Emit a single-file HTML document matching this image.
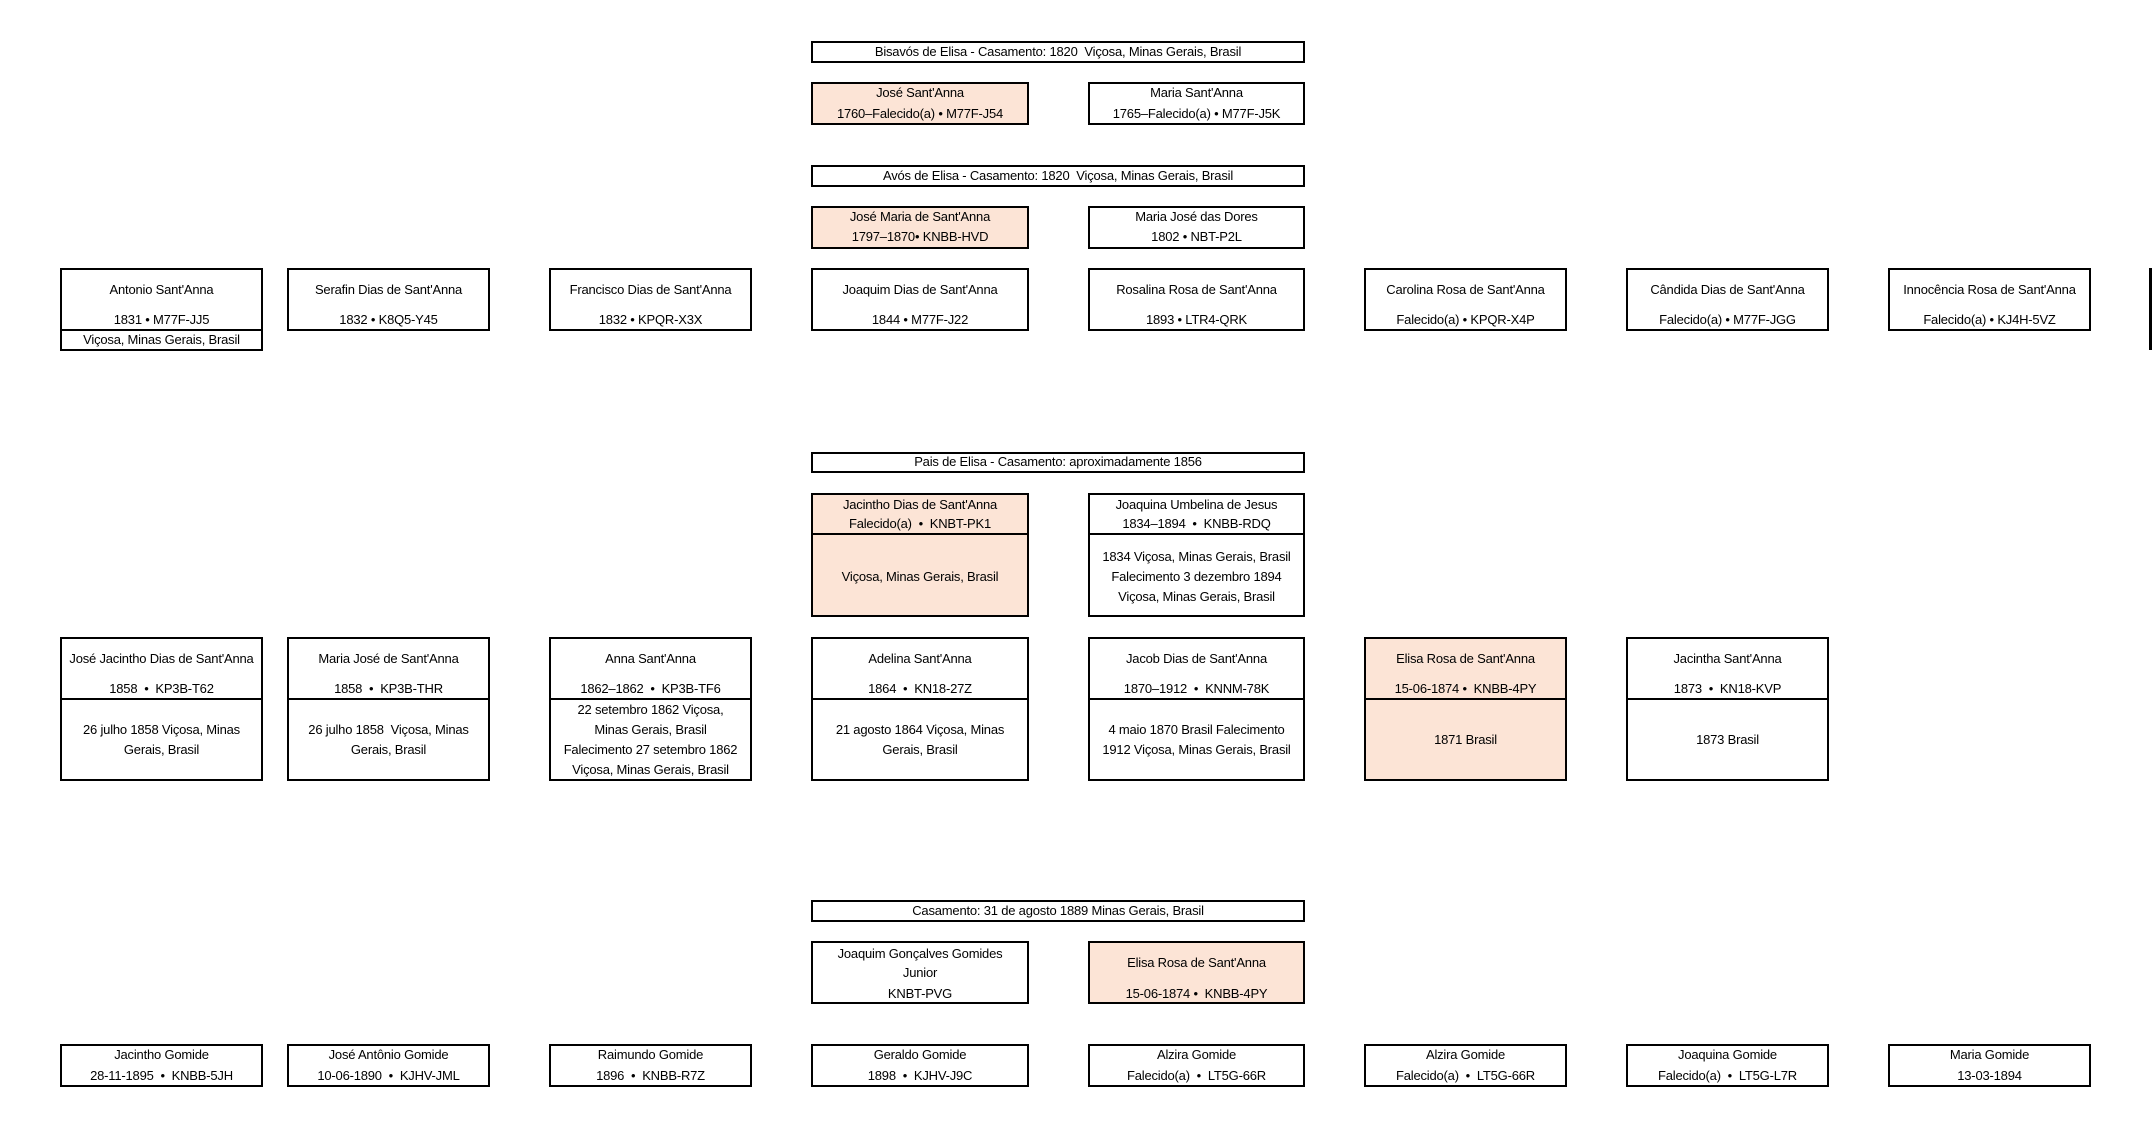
<!DOCTYPE html>
<html><head><meta charset="utf-8"><style>
body{margin:0;width:2152px;height:1127px;background:#fff;position:relative;overflow:hidden;font-family:"Liberation Sans",sans-serif;color:#000}
.b{position:absolute;border:2px solid #000;box-sizing:border-box;background:#fff}
.p{background:#fce4d6}
.l{position:absolute;height:0;border-top:2px solid #000}
.t{position:absolute;text-align:center;line-height:20px;height:20px;font-size:13px;white-space:nowrap;letter-spacing:-0.2px}
</style></head><body>

<!-- Bisavós -->
<div class="b" style="left:811px;top:41px;width:494px;height:22px"></div>
<div class="t" style="left:811px;width:494px;top:42px">Bisavós de Elisa - Casamento: 1820&nbsp; Viçosa, Minas Gerais, Brasil</div>
<div class="b p" style="left:811px;top:82px;width:218px;height:43px"></div>
<div class="t" style="left:811px;width:218px;top:83px">José Sant'Anna</div>
<div class="t" style="left:811px;width:218px;top:104px">1760–Falecido(a) • M77F-J54</div>
<div class="b" style="left:1088px;top:82px;width:217px;height:43px"></div>
<div class="t" style="left:1088px;width:217px;top:83px">Maria Sant'Anna</div>
<div class="t" style="left:1088px;width:217px;top:104px">1765–Falecido(a) • M77F-J5K</div>

<!-- Avós -->
<div class="b" style="left:811px;top:165px;width:494px;height:22px"></div>
<div class="t" style="left:811px;width:494px;top:166px">Avós de Elisa - Casamento: 1820&nbsp; Viçosa, Minas Gerais, Brasil</div>
<div class="b p" style="left:811px;top:206px;width:218px;height:43px"></div>
<div class="t" style="left:811px;width:218px;top:207px">José Maria de Sant'Anna</div>
<div class="t" style="left:811px;width:218px;top:227px">1797–1870• KNBB-HVD</div>
<div class="b" style="left:1088px;top:206px;width:217px;height:43px"></div>
<div class="t" style="left:1088px;width:217px;top:207px">Maria José das Dores</div>
<div class="t" style="left:1088px;width:217px;top:227px">1802 • NBT-P2L</div>

<!-- Row 1 -->
<div class="b" style="left:60px;top:268px;width:203px;height:83px"></div>
<div class="l" style="left:60px;top:329px;width:203px"></div>
<div class="t" style="left:60px;width:203px;top:280px">Antonio Sant'Anna</div>
<div class="t" style="left:60px;width:203px;top:310px">1831 • M77F-JJ5</div>
<div class="t" style="left:60px;width:203px;top:330px">Viçosa, Minas Gerais, Brasil</div>

<div class="b" style="left:287px;top:268px;width:203px;height:63px"></div>
<div class="t" style="left:287px;width:203px;top:280px">Serafin Dias de Sant'Anna</div>
<div class="t" style="left:287px;width:203px;top:310px">1832 • K8Q5-Y45</div>

<div class="b" style="left:549px;top:268px;width:203px;height:63px"></div>
<div class="t" style="left:549px;width:203px;top:280px">Francisco Dias de Sant'Anna</div>
<div class="t" style="left:549px;width:203px;top:310px">1832 • KPQR-X3X</div>

<div class="b" style="left:811px;top:268px;width:218px;height:63px"></div>
<div class="t" style="left:811px;width:218px;top:280px">Joaquim Dias de Sant'Anna</div>
<div class="t" style="left:811px;width:218px;top:310px">1844 • M77F-J22</div>

<div class="b" style="left:1088px;top:268px;width:217px;height:63px"></div>
<div class="t" style="left:1088px;width:217px;top:280px">Rosalina Rosa de Sant'Anna</div>
<div class="t" style="left:1088px;width:217px;top:310px">1893 • LTR4-QRK</div>

<div class="b" style="left:1364px;top:268px;width:203px;height:63px"></div>
<div class="t" style="left:1364px;width:203px;top:280px">Carolina Rosa de Sant'Anna</div>
<div class="t" style="left:1364px;width:203px;top:310px">Falecido(a) • KPQR-X4P</div>

<div class="b" style="left:1626px;top:268px;width:203px;height:63px"></div>
<div class="t" style="left:1626px;width:203px;top:280px">Cândida Dias de Sant'Anna</div>
<div class="t" style="left:1626px;width:203px;top:310px">Falecido(a) • M77F-JGG</div>

<div class="b" style="left:1888px;top:268px;width:203px;height:63px"></div>
<div class="t" style="left:1888px;width:203px;top:280px">Innocência Rosa de Sant'Anna</div>
<div class="t" style="left:1888px;width:203px;top:310px">Falecido(a) • KJ4H-5VZ</div>

<div style="position:absolute;left:2149px;top:268px;width:3px;height:82px;background:#000"></div>

<!-- Pais -->
<div class="b" style="left:811px;top:452px;width:494px;height:21px"></div>
<div class="t" style="left:811px;width:494px;top:452px">Pais de Elisa - Casamento: aproximadamente 1856</div>
<div class="b p" style="left:811px;top:493px;width:218px;height:124px"></div>
<div class="l" style="left:811px;top:533px;width:218px"></div>
<div class="t" style="left:811px;width:218px;top:495px">Jacintho Dias de Sant'Anna</div>
<div class="t" style="left:811px;width:218px;top:514px">Falecido(a)&nbsp; •&nbsp; KNBT-PK1</div>
<div class="t" style="left:811px;width:218px;top:567px">Viçosa, Minas Gerais, Brasil</div>

<div class="b" style="left:1088px;top:493px;width:217px;height:124px"></div>
<div class="l" style="left:1088px;top:533px;width:217px"></div>
<div class="t" style="left:1088px;width:217px;top:495px">Joaquina Umbelina de Jesus</div>
<div class="t" style="left:1088px;width:217px;top:514px">1834–1894&nbsp; •&nbsp; KNBB-RDQ</div>
<div class="t" style="left:1088px;width:217px;top:547px">1834 Viçosa, Minas Gerais, Brasil</div>
<div class="t" style="left:1088px;width:217px;top:567px">Falecimento 3 dezembro 1894</div>
<div class="t" style="left:1088px;width:217px;top:587px">Viçosa, Minas Gerais, Brasil</div>

<!-- Row 2 -->
<div class="b" style="left:60px;top:637px;width:203px;height:144px"></div>
<div class="l" style="left:60px;top:698px;width:203px"></div>
<div class="t" style="left:60px;width:203px;top:649px">José Jacintho Dias de Sant'Anna</div>
<div class="t" style="left:60px;width:203px;top:679px">1858&nbsp; •&nbsp; KP3B-T62</div>
<div class="t" style="left:60px;width:203px;top:720px">26 julho 1858 Viçosa, Minas</div>
<div class="t" style="left:60px;width:203px;top:740px">Gerais, Brasil</div>

<div class="b" style="left:287px;top:637px;width:203px;height:144px"></div>
<div class="l" style="left:287px;top:698px;width:203px"></div>
<div class="t" style="left:287px;width:203px;top:649px">Maria José de Sant'Anna</div>
<div class="t" style="left:287px;width:203px;top:679px">1858&nbsp; •&nbsp; KP3B-THR</div>
<div class="t" style="left:287px;width:203px;top:720px">26 julho 1858&nbsp; Viçosa, Minas</div>
<div class="t" style="left:287px;width:203px;top:740px">Gerais, Brasil</div>

<div class="b" style="left:549px;top:637px;width:203px;height:144px"></div>
<div class="l" style="left:549px;top:698px;width:203px"></div>
<div class="t" style="left:549px;width:203px;top:649px">Anna Sant'Anna</div>
<div class="t" style="left:549px;width:203px;top:679px">1862–1862&nbsp; •&nbsp; KP3B-TF6</div>
<div class="t" style="left:549px;width:203px;top:700px">22 setembro 1862 Viçosa,</div>
<div class="t" style="left:549px;width:203px;top:720px">Minas Gerais, Brasil</div>
<div class="t" style="left:549px;width:203px;top:740px">Falecimento 27 setembro 1862</div>
<div class="t" style="left:549px;width:203px;top:760px">Viçosa, Minas Gerais, Brasil</div>

<div class="b" style="left:811px;top:637px;width:218px;height:144px"></div>
<div class="l" style="left:811px;top:698px;width:218px"></div>
<div class="t" style="left:811px;width:218px;top:649px">Adelina Sant'Anna</div>
<div class="t" style="left:811px;width:218px;top:679px">1864&nbsp; •&nbsp; KN18-27Z</div>
<div class="t" style="left:811px;width:218px;top:720px">21 agosto 1864 Viçosa, Minas</div>
<div class="t" style="left:811px;width:218px;top:740px">Gerais, Brasil</div>

<div class="b" style="left:1088px;top:637px;width:217px;height:144px"></div>
<div class="l" style="left:1088px;top:698px;width:217px"></div>
<div class="t" style="left:1088px;width:217px;top:649px">Jacob Dias de Sant'Anna</div>
<div class="t" style="left:1088px;width:217px;top:679px">1870–1912&nbsp; •&nbsp; KNNM-78K</div>
<div class="t" style="left:1088px;width:217px;top:720px">4 maio 1870 Brasil Falecimento</div>
<div class="t" style="left:1088px;width:217px;top:740px">1912 Viçosa, Minas Gerais, Brasil</div>

<div class="b p" style="left:1364px;top:637px;width:203px;height:144px"></div>
<div class="l" style="left:1364px;top:698px;width:203px"></div>
<div class="t" style="left:1364px;width:203px;top:649px">Elisa Rosa de Sant'Anna</div>
<div class="t" style="left:1364px;width:203px;top:679px">15-06-1874 •&nbsp; KNBB-4PY</div>
<div class="t" style="left:1364px;width:203px;top:730px">1871 Brasil</div>

<div class="b" style="left:1626px;top:637px;width:203px;height:144px"></div>
<div class="l" style="left:1626px;top:698px;width:203px"></div>
<div class="t" style="left:1626px;width:203px;top:649px">Jacintha Sant'Anna</div>
<div class="t" style="left:1626px;width:203px;top:679px">1873&nbsp; •&nbsp; KN18-KVP</div>
<div class="t" style="left:1626px;width:203px;top:730px">1873 Brasil</div>

<!-- Casamento -->
<div class="b" style="left:811px;top:900px;width:494px;height:22px"></div>
<div class="t" style="left:811px;width:494px;top:901px">Casamento: 31 de agosto 1889 Minas Gerais, Brasil</div>
<div class="b" style="left:811px;top:941px;width:218px;height:63px"></div>
<div class="t" style="left:811px;width:218px;top:944px">Joaquim Gonçalves Gomides</div>
<div class="t" style="left:811px;width:218px;top:963px">Junior</div>
<div class="t" style="left:811px;width:218px;top:984px">KNBT-PVG</div>
<div class="b p" style="left:1088px;top:941px;width:217px;height:63px"></div>
<div class="t" style="left:1088px;width:217px;top:953px">Elisa Rosa de Sant'Anna</div>
<div class="t" style="left:1088px;width:217px;top:984px">15-06-1874 •&nbsp; KNBB-4PY</div>

<!-- Row 3 -->
<div class="b" style="left:60px;top:1044px;width:203px;height:43px"></div>
<div class="t" style="left:60px;width:203px;top:1045px">Jacintho Gomide</div>
<div class="t" style="left:60px;width:203px;top:1066px">28-11-1895&nbsp; •&nbsp; KNBB-5JH</div>

<div class="b" style="left:287px;top:1044px;width:203px;height:43px"></div>
<div class="t" style="left:287px;width:203px;top:1045px">José Antônio Gomide</div>
<div class="t" style="left:287px;width:203px;top:1066px">10-06-1890&nbsp; •&nbsp; KJHV-JML</div>

<div class="b" style="left:549px;top:1044px;width:203px;height:43px"></div>
<div class="t" style="left:549px;width:203px;top:1045px">Raimundo Gomide</div>
<div class="t" style="left:549px;width:203px;top:1066px">1896&nbsp; •&nbsp; KNBB-R7Z</div>

<div class="b" style="left:811px;top:1044px;width:218px;height:43px"></div>
<div class="t" style="left:811px;width:218px;top:1045px">Geraldo Gomide</div>
<div class="t" style="left:811px;width:218px;top:1066px">1898&nbsp; •&nbsp; KJHV-J9C</div>

<div class="b" style="left:1088px;top:1044px;width:217px;height:43px"></div>
<div class="t" style="left:1088px;width:217px;top:1045px">Alzira Gomide</div>
<div class="t" style="left:1088px;width:217px;top:1066px">Falecido(a)&nbsp; •&nbsp; LT5G-66R</div>

<div class="b" style="left:1364px;top:1044px;width:203px;height:43px"></div>
<div class="t" style="left:1364px;width:203px;top:1045px">Alzira Gomide</div>
<div class="t" style="left:1364px;width:203px;top:1066px">Falecido(a)&nbsp; •&nbsp; LT5G-66R</div>

<div class="b" style="left:1626px;top:1044px;width:203px;height:43px"></div>
<div class="t" style="left:1626px;width:203px;top:1045px">Joaquina Gomide</div>
<div class="t" style="left:1626px;width:203px;top:1066px">Falecido(a)&nbsp; •&nbsp; LT5G-L7R</div>

<div class="b" style="left:1888px;top:1044px;width:203px;height:43px"></div>
<div class="t" style="left:1888px;width:203px;top:1045px">Maria Gomide</div>
<div class="t" style="left:1888px;width:203px;top:1066px">13-03-1894</div>

</body></html>
